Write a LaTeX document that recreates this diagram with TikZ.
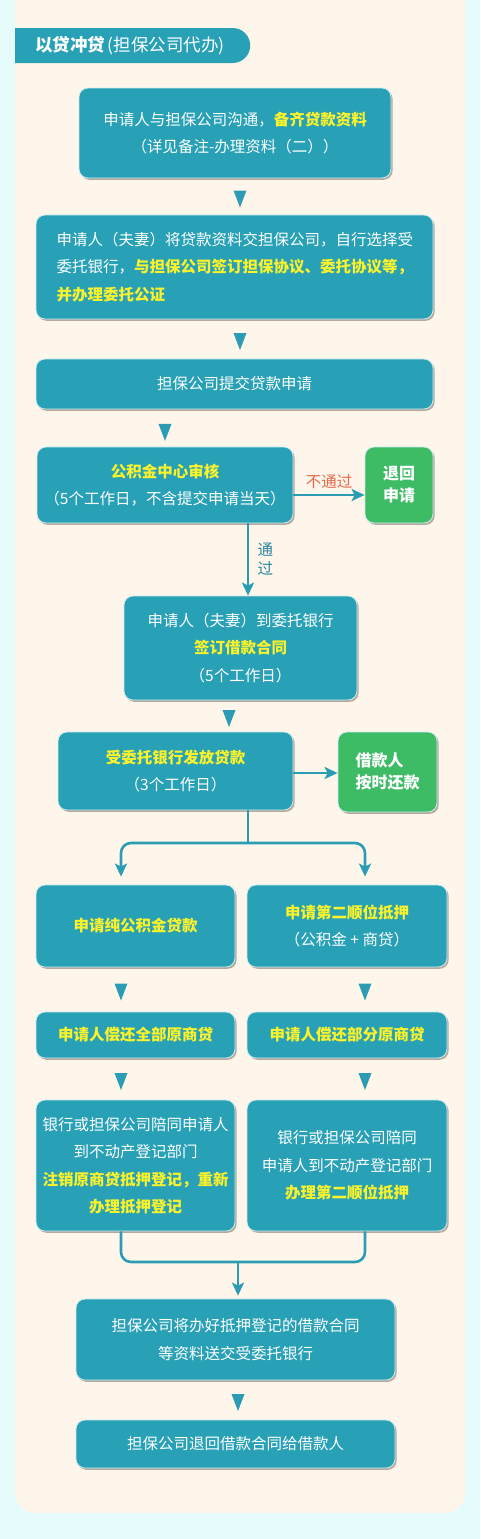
\documentclass[tikz,border=0pt]{standalone}
\usepackage{fontspec}
\newfontfamily\cjk{Noto Sans CJK SC}
\usetikzlibrary{arrows.meta,calc,shadows,shapes.misc}
\definecolor{pageCyan}{HTML}{E6FBFC}
\definecolor{panelCream}{HTML}{FEF6EA}
\definecolor{boxTeal}{HTML}{28A1B7}
\definecolor{boxEdge}{HTML}{CDEBEE}
\definecolor{shadowGray}{HTML}{B3A99F}
\definecolor{okGreen}{HTML}{3DBB65}
\definecolor{flowTeal}{HTML}{2B9CB3}
\definecolor{passTeal}{HTML}{2A86A0}
\definecolor{noRed}{HTML}{E8694A}
\definecolor{keyYellow}{HTML}{FAF32C}
\newcommand\boxfont{\cjk\fontsize{15.5}{27.5}\selectfont}
\newcommand\yel[1]{{\bfseries\color{keyYellow}#1}}
\tikzset{
	stage/.style={
		draw=boxEdge,
		line width=0.8pt,
		fill=boxTeal,
		rounded corners=9pt,
		text=white,
		align=center,
		inner sep=0pt,
		font=\boxfont,
		drop shadow={shadow xshift=1.6pt, shadow yshift=-1.8pt, fill=shadowGray, opacity=1},
	},
	result/.style={
		stage,
		fill=okGreen,
		font=\cjk\bfseries\fontsize{16}{22}\selectfont,
	},
	tab/.style={
		rounded rectangle,
		rounded rectangle west arc=none,
		fill=boxTeal,
		text=white,
		inner sep=0pt,
		minimum width=235pt,
		minimum height=35pt,
		font=\cjk\fontsize{17.5}{20}\selectfont,
	},
	flow/.style={
		draw=flowTeal,
		line width=2.6pt,
		-{Stealth[length=13pt,width=12pt,inset=3pt]},
	},
	link/.style={
		draw=flowTeal,
		line width=2.6pt,
	},
	downtri/.pic={
		\fill[flowTeal] (-6.5pt,6pt) -- (6.5pt,6pt) -- (0,-11pt) -- cycle;
	},
}

\begin{document}
\begin{tikzpicture}[x=1pt,y=-1pt]
	\fill[pageCyan] (0,0) rectangle (480,1539);
	\useasboundingbox (0,0) rectangle (480,1539);
	\fill[panelCream, rounded corners=20pt] (15,-40) rectangle (465,1513);
	
	% --- Heading ---
	\node[tab, anchor=west] (head) at (15,45.5) {\textbf{以贷冲贷}\,(担保公司代办)\,};
	
	% --- Main column ---
	\node[stage, minimum width=312pt, minimum height=90pt] (apply) at (235,133)
	{申请人与担保公司沟通，\yel{备齐贷款资料}\\（详见备注-办理资料（二））};
	\node[stage, minimum width=397pt, minimum height=104pt, align=left, text width=356pt] (handover) at (234.5,267)
	{申请人（夫妻）将贷款资料交担保公司，自行选择受\\委托银行，\yel{与担保公司签订担保协议、委托协议等，}\\\yel{并办理委托公证}};
	\node[stage, minimum width=397pt, minimum height=50pt] (submit) at (234.5,384) {担保公司提交贷款申请};
	\node[stage, minimum width=256pt, minimum height=76pt] (review) at (165,485)
	{\yel{公积金中心审核}\\（5个工作日，不含提交申请当天）};
	\node[result, minimum width=68pt, minimum height=76pt] (reject) at (399,485) {退回\\申请};
	\node[stage, minimum width=233pt, minimum height=104pt] (contract) at (240.5,648)
	{申请人（夫妻）到委托银行\\\yel{签订借款合同}\\（5个工作日）};
	\node[stage, minimum width=235pt, minimum height=78pt] (release) at (175.5,771)
	{\yel{受委托银行发放贷款}\\（3个工作日）};
	\node[result, minimum width=99pt, minimum height=80pt, align=left] (repay) at (387.5,772) {借款人\\按时还款};
	
	% --- Two branches ---
	\node[stage, minimum width=199pt, minimum height=82pt] (pure) at (135.5,926) {\yel{申请纯公积金贷款}};
	\node[stage, minimum width=200pt, minimum height=82pt] (second) at (347,926)
	{\yel{申请第二顺位抵押}\\（公积金 + 商贷）};
	\node[stage, minimum width=199pt, minimum height=46pt] (payall) at (135.5,1035) {\yel{申请人偿还全部原商贷}};
	\node[stage, minimum width=200pt, minimum height=46pt] (paypart) at (347,1035) {\yel{申请人偿还部分原商贷}};
	\node[stage, minimum width=199pt, minimum height=131pt] (cancel) at (135.5,1165.5)
	{银行或担保公司陪同申请人\\到不动产登记部门\\\yel{注销原商贷抵押登记，重新}\\\yel{办理抵押登记}};
	\node[stage, minimum width=200pt, minimum height=131pt] (mortgage) at (347,1165.5)
	{银行或担保公司陪同\\申请人到不动产登记部门\\\yel{办理第二顺位抵押}};
	
	% --- Closing steps ---
	\node[stage, minimum width=319pt, minimum height=81pt] (deliver) at (235.5,1339.5)
	{担保公司将办好抵押登记的借款合同\\等资料送交受委托银行};
	\node[stage, minimum width=319pt, minimum height=48pt] (giveback) at (235.5,1444) {担保公司退回借款合同给借款人};
	
	% --- Guide lines ---
	\coordinate (spine) at (240,0);
	\coordinate (pass) at (248,0);
	\coordinate (L) at (121,0);
	\coordinate (R) at (365,0);
	\coordinate (fork) at (248,843);
	\coordinate (join) at (238,1262);
	
	% --- Step marks ---
	\pic at ($(apply.south -| spine)!0.5!(handover.north -| spine)$) {downtri};
	\pic at ($(handover.south -| spine)!0.5!(submit.north -| spine)$) {downtri};
	\pic at ($(submit.south -| review.north)!0.55!(review.north)$) {downtri};
	\pic at ($([xshift=-11.5pt]contract.south)!0.5!([xshift=-11.5pt]contract.south |- release.north)$) {downtri};
	\pic at ($(pure.south -| L)!0.5!(payall.north -| L)$) {downtri};
	\pic at ($(second.south -| R)!0.5!(paypart.north -| R)$) {downtri};
	\pic at ($(payall.south -| L)!0.5!(cancel.north -| L)$) {downtri};
	\pic at ($(paypart.south -| R)!0.5!(mortgage.north -| R)$) {downtri};
	\pic at ($(deliver.south -| join)!0.5!(giveback.north -| join)$) {downtri};
	
	% --- Flows ---
	\draw[flow] ([yshift=-10pt]review.east) -- node[above=2pt, font=\boxfont, text=noRed] {不通过} ([yshift=-10pt]review.east -| reject.west);
	\draw[flow] (review.south -| pass) -- node[right=5pt, align=center, font=\cjk\fontsize{15.5}{19}\selectfont, text=passTeal] {通\\过} (contract.north -| pass);
	\draw[flow] ([yshift=-2pt]release.east) -- ([yshift=-2pt]release.east -| repay.west);
	
	\draw[link] (release.south -| fork) -- (fork);
	\draw[flow, rounded corners=10pt] (fork) -| ([yshift=8pt]pure.north -| L);
	\draw[flow, rounded corners=10pt] (fork) -| ([yshift=8pt]second.north -| R);
	
	\draw[link, rounded corners=10pt] (cancel.south -| L) |- (join) -| (mortgage.south -| R);
	\draw[flow] (join) -- ([yshift=3pt]deliver.north -| join);
\end{tikzpicture}
\end{document}
